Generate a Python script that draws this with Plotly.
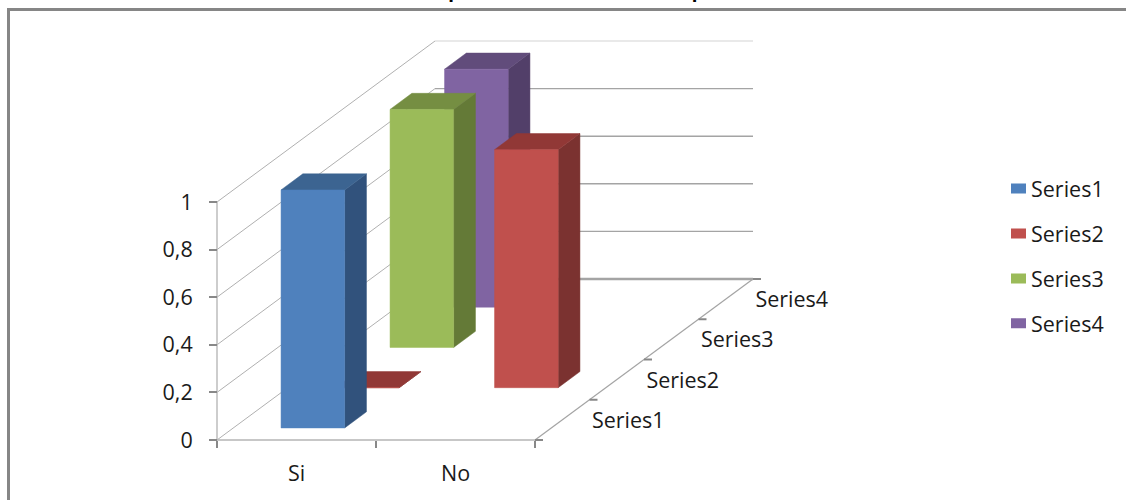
import plotly.graph_objects as go

TITLE = "Elementos de la empresa utilizados en la implementación"
CATEGORIES = ["Si", "No"]
SERIES = ["Series1", "Series2", "Series3", "Series4"]
SERIES1 = [1, None]
SERIES2 = [0, 1]
SERIES3 = [1, None]
SERIES4 = [1, None]
VALUES = [SERIES1, SERIES2, SERIES3, SERIES4]
Y_TICKS = [0, 0.2, 0.4, 0.6, 0.8, 1]

FRONT = ["#4F81BD", "#C0504D", "#9BBB59", "#8064A2"]
SIDE = ["#31527C", "#7B3230", "#647A37", "#523F69"]
TOP = ["#3C6491", "#913836", "#758E42", "#614C7B"]

W, H = 1126, 500
X0_PX, Y0_PX = 217, 440       # origin of the front plane
CAT_PX, VAL_PX = 159, 238     # pixels per category, pixels per 1.0
DX = 218 / CAT_PX             # depth shear of the oblique projection
DY = 161 / VAL_PX
BAR_W = 0.4
BAR_D = 0.1
FONT = "'Open Sans', sans-serif"
FS = 21.5


def proj(c, d, v):
    return c + d * DX, v + d * DY


def poly(points, color):
    xs, ys = zip(*points)
    return go.Scatter(x=list(xs) + [xs[0]], y=list(ys) + [ys[0]], mode="lines", fill="toself",
                      fillcolor=color, line=dict(color=color, width=0.5),
                      hoverinfo="skip", showlegend=False)


def seg(a, b, color, width):
    return go.Scatter(x=[a[0], b[0]], y=[a[1], b[1]], mode="lines",
                      line=dict(color=color, width=width), hoverinfo="skip", showlegend=False)


fig = go.Figure()

# walls
for v in Y_TICKS:
    fig.add_trace(seg(proj(0, 0, v), proj(0, 1, v), "#b0b0b0", 1))
    fig.add_trace(seg(proj(0, 1, v), proj(2, 1, v), "#e2e2e2" if v == 1 else "#a4a4a4", 1.4 if v else 2.4))
fig.add_trace(seg(proj(2, 0, 0), proj(2, 1, 0), "#a4a4a4", 1.2))
fig.add_trace(seg(proj(0, 0, 0), proj(0, 0, 1), "#bcbcbc", 1.5))
fig.add_trace(seg(proj(0, 0, 0), proj(2, 0, 0), "#b4b4b4", 1.6))

# depth-axis ticks and labels
TICK_LEN = 8 / CAT_PX
for k in range(len(SERIES) + 1):
    x, y = proj(2, k / len(SERIES), 0)
    fig.add_trace(seg((x, y), (x + TICK_LEN, y), "#888888", 2))
fig.add_trace(go.Scatter(
    x=[proj(2, (k + 0.5) / len(SERIES), 0)[0] + 66 / CAT_PX for k in range(len(SERIES))],
    y=[proj(2, (k + 0.5) / len(SERIES), 0)[1] - 2.5 / VAL_PX for k in range(len(SERIES))],
    mode="text", text=SERIES, textposition="middle center",
    textfont=dict(family=FONT, size=FS, color="#1a1a1a"), hoverinfo="skip", showlegend=False))

# bars, back to front
for s in reversed(range(len(SERIES))):
    d0 = (s + 0.3) / len(SERIES)
    d1 = d0 + BAR_D
    for c, v in enumerate(VALUES[s]):
        if v is None:
            continue
        x0, x1 = c + 0.5 - BAR_W / 2, c + 0.5 + BAR_W / 2
        fig.add_trace(poly([proj(x1, d0, 0), proj(x1, d1, 0), proj(x1, d1, v), proj(x1, d0, v)], SIDE[s]))
        fig.add_trace(poly([proj(x0, d0, v), proj(x1, d0, v), proj(x1, d1, v), proj(x0, d1, v)], TOP[s]))
        fig.add_trace(poly([proj(x0, d0, 0), proj(x1, d0, 0), proj(x1, d0, v), proj(x0, d0, v)], FRONT[s]))

# legend entries
for s, name in enumerate(SERIES):
    fig.add_trace(go.Scatter(x=[None], y=[None], mode="lines", name=name, legendgroup=name,
                             line=dict(color=FRONT[s], width=14, dash="0px,15px,15px,100px")))

fig.update_layout(
    width=W, height=H, autosize=False, margin=dict(l=0, r=0, t=0, b=0),
    paper_bgcolor="white", plot_bgcolor="white", separators=", ",
    font=dict(family=FONT, size=FS, color="#1a1a1a"),
    annotations=[dict(text=f"<b>{TITLE}</b>", xref="paper", yref="paper", x=540 / W, xanchor="center",
                      y=1 - 5.5 / H, yanchor="bottom", showarrow=False,
                      font=dict(family="Lato, sans-serif", size=23, color="black"))],
    xaxis=dict(range=[-X0_PX / CAT_PX, (W - X0_PX) / CAT_PX], anchor="free", position=(H - Y0_PX) / H,
               tickmode="array", tickvals=[0.5, 1.5], ticktext=CATEGORIES, ticks="", showgrid=False,
               zeroline=False, showline=False, ticklabelstandoff=18,
               minor=dict(tickmode="array", tickvals=[0, 1, 2], ticks="outside", ticklen=7, tickwidth=2,
                          tickcolor="#888888", showgrid=False)),
    yaxis=dict(range=[(Y0_PX - H) / VAL_PX, Y0_PX / VAL_PX], anchor="free", position=X0_PX / W,
               tickmode="array", tickvals=Y_TICKS, ticks="outside", ticklen=8, tickwidth=2,
               tickcolor="#888888", showgrid=False, zeroline=False, showline=False,
               ticklabelstandoff=12),
    legend=dict(x=991 / W, xanchor="left", y=1 - 168 / H, yanchor="top", tracegroupgap=14,
                bgcolor="rgba(0,0,0,0)", font=dict(family=FONT, size=FS, color="#1a1a1a")),
    shapes=[
        dict(type="line", xref="paper", yref="paper", x0=7 / W, x1=1, y0=1 - 9.5 / H, y1=1 - 9.5 / H,
             line=dict(color="#868686", width=3)),
        dict(type="line", xref="paper", yref="paper", x0=8.5 / W, x1=8.5 / W, y0=0, y1=1 - 8 / H,
             line=dict(color="#868686", width=3)),
    ],
)
# The page's default 8px body margin would otherwise clip the title, which runs off the top edge.
fig.write_html("out.html", config=dict(displayModeBar=False),
               post_script="document.body.style.margin='0';")
